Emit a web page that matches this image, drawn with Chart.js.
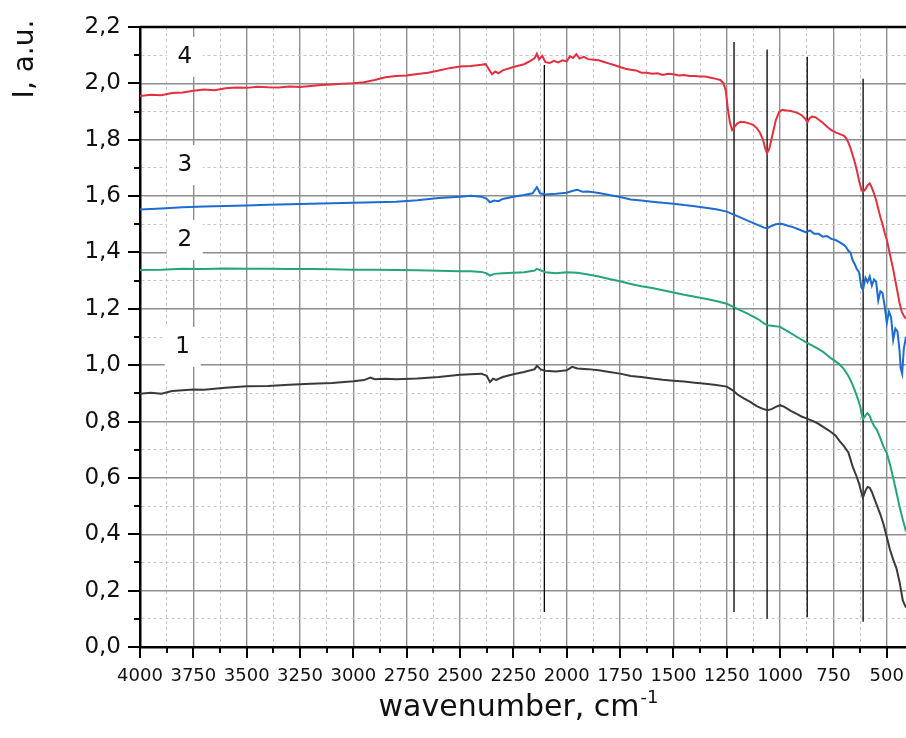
<!DOCTYPE html>
<html>
<head>
<meta charset="utf-8">
<script src="https://cdn.jsdelivr.net/npm/chart.js@4/dist/chart.umd.min.js"></script>
<style>
  body { margin: 0; background: #fff; }
  #wrap { width: 906px; height: 738px; position: relative; }
</style>
</head>
<body>
<div id="wrap"><canvas id="ir-chart"></canvas></div>
<script>
// curve 1 (dark)
var wn1 = [4000, 3950, 3900, 3850, 3800, 3750, 3700, 3600, 3500, 3400, 3300, 3200, 3100, 3000, 2950, 2920, 2900, 2850, 2800, 2700, 2600, 2500, 2450, 2400, 2375, 2360, 2345, 2330, 2300, 2250, 2200, 2150, 2140, 2120, 2100, 2050, 2000, 1975, 1950, 1900, 1850, 1800, 1750, 1700, 1650, 1600, 1550, 1500, 1450, 1400, 1350, 1300, 1250, 1220, 1200, 1170, 1140, 1110, 1080, 1060, 1040, 1020, 1000, 980, 950, 920, 900, 880, 860, 840, 820, 800, 780, 760, 740, 720, 700, 680, 660, 645, 630, 620, 612, 600, 590, 580, 570, 560, 545, 530, 515, 500, 485, 470, 455, 440, 425, 410];
var int1 = [0.899, 0.902, 0.899, 0.908, 0.911, 0.914, 0.913, 0.920, 0.925, 0.926, 0.931, 0.934, 0.937, 0.943, 0.947, 0.956, 0.950, 0.952, 0.950, 0.953, 0.958, 0.966, 0.968, 0.970, 0.962, 0.940, 0.952, 0.948, 0.958, 0.968, 0.976, 0.986, 0.998, 0.984, 0.980, 0.978, 0.982, 0.994, 0.988, 0.986, 0.982, 0.976, 0.970, 0.962, 0.958, 0.953, 0.948, 0.945, 0.942, 0.938, 0.934, 0.930, 0.924, 0.910, 0.896, 0.882, 0.870, 0.855, 0.845, 0.840, 0.844, 0.852, 0.858, 0.852, 0.838, 0.826, 0.818, 0.812, 0.806, 0.800, 0.792, 0.782, 0.772, 0.762, 0.750, 0.730, 0.712, 0.690, 0.640, 0.612, 0.580, 0.550, 0.530, 0.555, 0.568, 0.565, 0.550, 0.530, 0.500, 0.470, 0.435, 0.390, 0.345, 0.310, 0.280, 0.230, 0.165, 0.140];

// curve 2 (green)
var wn2 = [4000, 3900, 3800, 3700, 3600, 3500, 3400, 3300, 3200, 3100, 3000, 2900, 2800, 2700, 2600, 2500, 2450, 2400, 2375, 2360, 2340, 2300, 2250, 2200, 2150, 2140, 2100, 2050, 2000, 1950, 1900, 1850, 1800, 1750, 1700, 1650, 1600, 1550, 1500, 1450, 1400, 1350, 1300, 1250, 1200, 1150, 1100, 1075, 1060, 1040, 1000, 960, 920, 880, 840, 800, 760, 720, 700, 680, 660, 640, 625, 612, 600, 590, 580, 570, 560, 545, 530, 515, 500, 485, 470, 455, 440, 425, 410];
var int2 = [1.338, 1.339, 1.342, 1.341, 1.343, 1.342, 1.342, 1.341, 1.341, 1.340, 1.339, 1.339, 1.338, 1.337, 1.335, 1.333, 1.333, 1.331, 1.326, 1.318, 1.324, 1.326, 1.328, 1.330, 1.336, 1.342, 1.330, 1.326, 1.330, 1.328, 1.322, 1.315, 1.306, 1.298, 1.288, 1.280, 1.274, 1.266, 1.258, 1.250, 1.243, 1.236, 1.228, 1.218, 1.200, 1.182, 1.162, 1.148, 1.142, 1.140, 1.136, 1.118, 1.100, 1.082, 1.066, 1.048, 1.024, 1.002, 0.985, 0.962, 0.930, 0.890, 0.855, 0.808, 0.822, 0.830, 0.820, 0.800, 0.785, 0.768, 0.740, 0.710, 0.688, 0.648, 0.600, 0.550, 0.498, 0.452, 0.410];

// curve 3 (blue)
var wn3 = [4000, 3900, 3800, 3700, 3600, 3500, 3400, 3300, 3200, 3100, 3000, 2900, 2800, 2700, 2600, 2500, 2450, 2400, 2375, 2360, 2340, 2320, 2300, 2250, 2200, 2160, 2140, 2125, 2100, 2050, 2000, 1975, 1950, 1925, 1900, 1850, 1800, 1750, 1700, 1650, 1600, 1550, 1500, 1450, 1400, 1350, 1300, 1250, 1200, 1150, 1100, 1075, 1060, 1040, 1020, 1000, 985, 960, 940, 920, 900, 880, 860, 840, 820, 800, 780, 760, 740, 720, 700, 690, 680, 670, 660, 650, 640, 630, 620, 612, 600, 590, 580, 570, 560, 550, 540, 530, 520, 510, 500, 490, 480, 470, 460, 450, 440, 435, 428, 420, 410];
var int3 = [1.552, 1.556, 1.560, 1.563, 1.565, 1.567, 1.569, 1.571, 1.573, 1.575, 1.576, 1.578, 1.580, 1.585, 1.593, 1.598, 1.601, 1.598, 1.590, 1.578, 1.584, 1.582, 1.590, 1.598, 1.604, 1.610, 1.632, 1.610, 1.606, 1.608, 1.612, 1.618, 1.622, 1.615, 1.616, 1.611, 1.604, 1.597, 1.588, 1.584, 1.580, 1.576, 1.573, 1.568, 1.564, 1.559, 1.553, 1.545, 1.529, 1.512, 1.496, 1.488, 1.486, 1.494, 1.500, 1.502, 1.500, 1.494, 1.490, 1.484, 1.478, 1.472, 1.478, 1.466, 1.466, 1.456, 1.458, 1.448, 1.444, 1.436, 1.426, 1.418, 1.406, 1.400, 1.372, 1.358, 1.340, 1.330, 1.280, 1.266, 1.310, 1.295, 1.315, 1.282, 1.304, 1.296, 1.230, 1.262, 1.256, 1.210, 1.150, 1.190, 1.170, 1.090, 1.130, 1.120, 1.050, 0.990, 0.970, 1.060, 1.100];

// curve 4 (red)
var wn4 = [4000, 3950, 3900, 3850, 3800, 3750, 3700, 3650, 3600, 3550, 3500, 3450, 3400, 3350, 3300, 3250, 3200, 3150, 3100, 3050, 3000, 2950, 2900, 2850, 2800, 2750, 2700, 2650, 2600, 2550, 2500, 2450, 2400, 2380, 2365, 2350, 2335, 2320, 2300, 2250, 2200, 2170, 2150, 2140, 2130, 2115, 2100, 2080, 2060, 2040, 2020, 2000, 1985, 1970, 1955, 1940, 1920, 1900, 1875, 1850, 1825, 1800, 1775, 1750, 1725, 1700, 1675, 1650, 1625, 1600, 1575, 1550, 1525, 1500, 1475, 1450, 1425, 1400, 1375, 1350, 1325, 1300, 1280, 1265, 1255, 1245, 1235, 1225, 1215, 1200, 1185, 1165, 1145, 1125, 1110, 1095, 1080, 1070, 1061, 1050, 1035, 1020, 1005, 990, 970, 950, 930, 910, 895, 880, 872, 862, 850, 835, 820, 800, 780, 760, 740, 720, 700, 690, 680, 670, 660, 650, 640, 630, 620, 612, 600, 590, 580, 570, 560, 550, 540, 530, 520, 510, 500, 490, 480, 470, 460, 450, 440, 430, 420, 410];
var int4 = [1.955, 1.960, 1.958, 1.966, 1.968, 1.974, 1.978, 1.976, 1.983, 1.985, 1.984, 1.988, 1.986, 1.985, 1.989, 1.987, 1.991, 1.994, 1.996, 1.999, 2.000, 2.004, 2.012, 2.022, 2.026, 2.028, 2.033, 2.038, 2.046, 2.054, 2.060, 2.062, 2.066, 2.068, 2.050, 2.032, 2.042, 2.036, 2.046, 2.058, 2.068, 2.080, 2.090, 2.105, 2.085, 2.098, 2.075, 2.072, 2.080, 2.074, 2.082, 2.078, 2.096, 2.090, 2.104, 2.088, 2.094, 2.086, 2.084, 2.082, 2.076, 2.070, 2.064, 2.058, 2.052, 2.048, 2.046, 2.038, 2.038, 2.034, 2.036, 2.030, 2.034, 2.032, 2.028, 2.030, 2.026, 2.026, 2.024, 2.024, 2.020, 2.016, 2.012, 2.000, 1.975, 1.910, 1.860, 1.835, 1.845, 1.858, 1.864, 1.862, 1.858, 1.852, 1.842, 1.826, 1.800, 1.770, 1.752, 1.770, 1.820, 1.870, 1.898, 1.906, 1.904, 1.902, 1.898, 1.892, 1.884, 1.872, 1.862, 1.876, 1.882, 1.880, 1.872, 1.860, 1.846, 1.834, 1.826, 1.820, 1.814, 1.805, 1.790, 1.770, 1.745, 1.720, 1.690, 1.655, 1.625, 1.615, 1.625, 1.638, 1.645, 1.630, 1.610, 1.585, 1.555, 1.525, 1.500, 1.470, 1.445, 1.410, 1.375, 1.340, 1.300, 1.260, 1.220, 1.190, 1.175, 1.165];

// vertical marker lines
var markWn = [2105, 1216, 1061, 873, 611];
var markTop = [2.065, 2.147, 2.12, 2.094, 2.016];
var markBottom = [0.124, 0.124, 0.10, 0.106, 0.09];

// curve number labels
var curveNames = ["1", "2", "3", "4"];
var nameWn = [3800, 3790, 3790, 3790];
var nameVal = [1.065, 1.444, 1.71, 2.094];

var xMin = 410, xMax = 4000;
var yMin = 0, yMax = 2.2;

function pts(xs, ys) {
    var out = [];
    for (var i = 0; i < xs.length; i++) out.push({ x: xs[i], y: ys[i] });
    return out;
}

var datasets = [
    { data: pts(wn4, int4), borderColor: "#e2303f" },
    { data: pts(wn3, int3), borderColor: "#1c6cd2" },
    { data: pts(wn2, int2), borderColor: "#25a57a" },
    { data: pts(wn1, int1), borderColor: "#3a3a3a" }
];
datasets.forEach(function (d) {
    d.borderWidth = 2;
    d.pointRadius = 0;
    d.tension = 0;
});
for (var m = 0; m < markWn.length; m++) {
    datasets.push({
        data: [{ x: markWn[m], y: markBottom[m] }, { x: markWn[m], y: markTop[m] }],
        borderColor: "#000", borderWidth: 1.3, pointRadius: 0
    });
}

function isMajorX(v) { return Math.round(v) % 250 === 0; }
function isMajorY(v) { return Math.round(v * 10) % 2 === 0; }

// ticks, frame, labels, axis titles
var decor = {
    id: "decor",
    afterDraw: function (chart) {
        var ctx = chart.ctx, a = chart.chartArea;
        var xs = chart.scales.x, ys = chart.scales.y;
        ctx.save();
        ctx.strokeStyle = "#000";
        ctx.lineWidth = 2;
        xs.ticks.forEach(function (t) {
            var px = Math.round(xs.getPixelForValue(t.value));
            var len = isMajorX(t.value) ? 11 : 6;
            ctx.beginPath(); ctx.moveTo(px, a.bottom); ctx.lineTo(px, a.bottom + len); ctx.stroke();
        });
        ys.ticks.forEach(function (t) {
            var py = Math.round(ys.getPixelForValue(t.value));
            var len = isMajorY(t.value) ? 12 : 6;
            ctx.beginPath(); ctx.moveTo(a.left - len, py); ctx.lineTo(a.left, py); ctx.stroke();
        });
        // top frame line
        ctx.lineWidth = 2.5;
        ctx.beginPath(); ctx.moveTo(a.left, a.top); ctx.lineTo(a.right, a.top); ctx.stroke();

        // curve numbers on white boxes
        ctx.font = "23px 'DejaVu Sans'";
        ctx.textAlign = "center";
        ctx.textBaseline = "middle";
        for (var i = 0; i < curveNames.length; i++) {
            var cx = xs.getPixelForValue(nameWn[i]);
            var cy = ys.getPixelForValue(nameVal[i]);
            ctx.fillStyle = "#fff";
            ctx.fillRect(cx - 18, cy - 20, 36, 40);
            ctx.fillStyle = "#111";
            ctx.fillText(curveNames[i], cx, cy);
        }

        // x title with superscript
        ctx.fillStyle = "#111";
        ctx.textAlign = "left";
        ctx.textBaseline = "alphabetic";
        var main = "wavenumber, cm";
        ctx.font = "30px 'DejaVu Sans'";
        var w1 = ctx.measureText(main).width;
        ctx.font = "18px 'DejaVu Sans'";
        var w2 = ctx.measureText("-1").width;
        var x0 = 518 - (w1 + w2) / 2;
        ctx.font = "30px 'DejaVu Sans'";
        ctx.fillText(main, x0, 716);
        ctx.font = "18px 'DejaVu Sans'";
        ctx.fillText("-1", x0 + w1 + 1, 703);

        // y title
        ctx.save();
        ctx.translate(33, 59);
        ctx.rotate(-Math.PI / 2);
        ctx.font = "28px 'DejaVu Sans'";
        ctx.textAlign = "center";
        ctx.textBaseline = "alphabetic";
        ctx.fillText("I, a.u.", 0, 0);
        ctx.restore();
        ctx.restore();
    }
};

var ctx = document.getElementById("ir-chart").getContext("2d");
var irChart = new Chart(ctx, {
    type: "line",
    data: { datasets: datasets },
    plugins: [decor],
    options: {
        responsive: true,
        maintainAspectRatio: false,
        animation: false,
        events: [],
        layout: { padding: { top: 27, left: 0, right: 0, bottom: 0 } },
        plugins: { legend: { display: false }, tooltip: { enabled: false } },
        scales: {
            x: {
                type: "linear",
                reverse: true,
                min: xMin,
                max: xMax,
                afterFit: function (s) {
                    s.height = 91;
                    s.paddingLeft = 0; s.paddingRight = 0;
                },
                ticks: {
                    stepSize: 125,
                    includeBounds: false,
                    autoSkip: false,
                    maxRotation: 0,
                    padding: 19,
                    color: "#111",
                    font: { family: "DejaVu Sans", size: 18 },
                    callback: function (v) { return isMajorX(v) ? String(v) : ""; }
                },
                grid: {
                    drawTicks: false,
                    color: function (c) { return c.tick && isMajorX(c.tick.value) ? "#8e8e8e" : "#c6c6c6"; },
                    lineWidth: function (c) { return c.tick && isMajorX(c.tick.value) ? 1.4 : 1; }
                },
                border: {
                    color: "#000",
                    width: 2.5,
                    dash: function (c) { return c.tick && !isMajorX(c.tick.value) ? [3, 3] : []; }
                }
            },
            y: {
                min: yMin,
                max: yMax,
                afterFit: function (s) {
                    s.width = 140;
                    s.paddingTop = 0; s.paddingBottom = 0;
                },
                ticks: {
                    stepSize: 0.1,
                    autoSkip: false,
                    padding: 19,
                    color: "#111",
                    font: { family: "DejaVu Sans", size: 23 },
                    callback: function (v) { return isMajorY(v) ? v.toFixed(1).replace(".", ",") : ""; }
                },
                grid: {
                    drawTicks: false,
                    color: function (c) { return c.tick && isMajorY(c.tick.value) ? "#8e8e8e" : "#c6c6c6"; },
                    lineWidth: function (c) { return c.tick && isMajorY(c.tick.value) ? 1.4 : 1; }
                },
                border: {
                    color: "#000",
                    width: 2.5,
                    dash: function (c) { return c.tick && !isMajorY(c.tick.value) ? [3, 3] : []; }
                }
            }
        }
    }
});
</script>
</body>
</html>
